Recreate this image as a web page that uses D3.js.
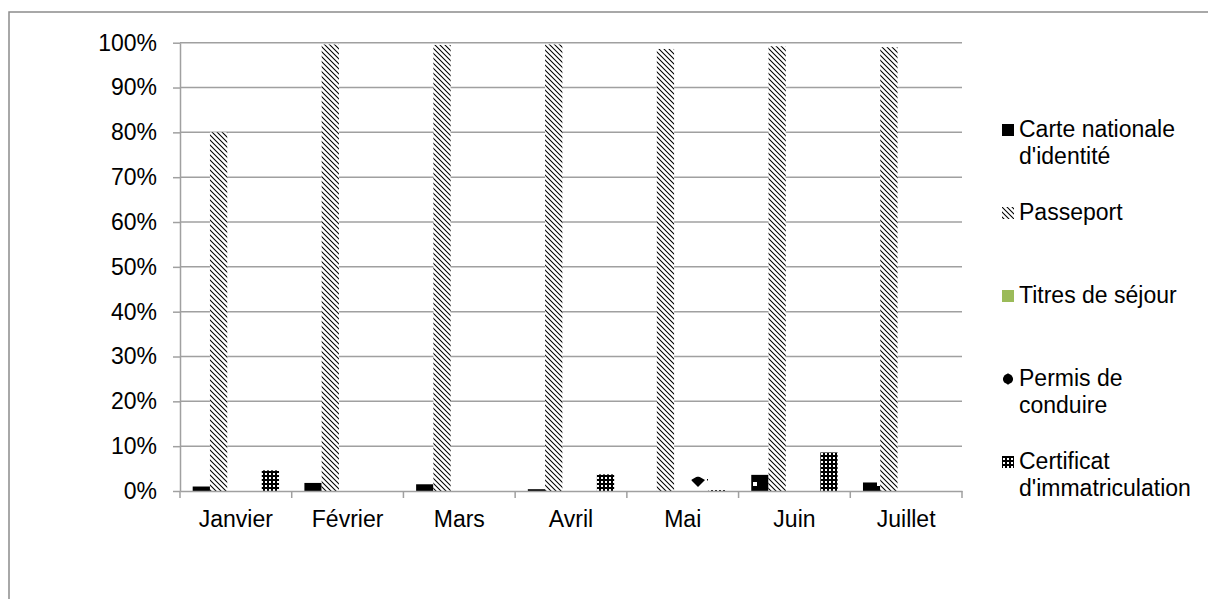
<!DOCTYPE html>
<html>
<head>
<meta charset="utf-8">
<script src="https://cdn.jsdelivr.net/npm/d3@7"></script>
<style>
body{margin:0;background:#fff;}
text{font-family:"Liberation Sans",Arial,sans-serif;fill:#000;}
</style>
</head>
<body>
<div id="chart-area"></div>
<script>
var months=["Janvier","Février","Mars","Avril","Mai","Juin","Juillet"];
var seriesNames=["Carte nationale d'identité","Passeport","Titres de séjour","Permis de conduire","Certificat d'immatriculation"];
var legendLines=[["Carte nationale","d'identité"],["Passeport"],["Titres de séjour"],["Permis de","conduire"],["Certificat","d'immatriculation"]];
var carte=[1.0,1.8,1.5,0.4,0,3.6,1.9];
var passeport=[80.0,99.6,99.5,99.6,98.6,99.2,99.0];
var titres=[0,0,0,0,0,0,0];
var permis=[0,0,0,0,3.2,0.1,0];
var certificat=[4.6,0,0,3.7,0.2,8.6,0];
var yTicks=[0,10,20,30,40,50,60,70,80,90,100];

var values=[carte,passeport,titres,permis,certificat];
var fills=["url(#p-carte)","url(#p-pass)","#9bbb59","url(#p-permis)","url(#p-cert)"];

var width=1208, height=599;
var plot={left:180,right:962,top:42.7,bottom:491};

var svg=d3.select("#chart-area").append("svg")
	.attr("width",width)
	.attr("height",height);

var defs=svg.append("defs");

// carte : noir avec un petit trou blanc de temps en temps
var pc=defs.append("pattern").attr("id","p-carte").attr("patternUnits","userSpaceOnUse")
	.attr("width",124).attr("height",124);
pc.append("rect").attr("width",124).attr("height",124).attr("fill","#000");
pc.append("rect").attr("x",9).attr("y",110).attr("width",4).attr("height",4).attr("fill","#fff");

// passeport : diagonales descendantes
var pp=defs.append("pattern").attr("id","p-pass").attr("patternUnits","userSpaceOnUse")
	.attr("width",5).attr("height",5);
pp.append("rect").attr("width",5).attr("height",5).attr("fill","#fff");
pp.append("path").attr("d","M0,0L5,5M-1,4L1,6M4,-1L6,1")
	.attr("stroke","#000").attr("stroke-width",1.05);

// permis : gros losanges
var pm=defs.append("pattern").attr("id","p-permis").attr("patternUnits","userSpaceOnUse")
	.attr("x",690).attr("y",473).attr("width",18).attr("height",18);
pm.append("rect").attr("width",18).attr("height",18).attr("fill","#fff");
pm.append("path").attr("d","M1,7L8,3L15,7L8,14Z").attr("fill","#000");
pm.append("rect").attr("x",17).attr("y",6).attr("width",1.5).attr("height",1.5).attr("fill","#000");

// certificat : grille noire
var pg=defs.append("pattern").attr("id","p-cert").attr("patternUnits","userSpaceOnUse")
	.attr("width",4).attr("height",4);
pg.append("rect").attr("width",4).attr("height",4).attr("fill","#000");
pg.append("rect").attr("x",1).attr("y",1).attr("width",2).attr("height",2).attr("fill","#fff");

// cadre
svg.append("rect")
	.attr("x",9).attr("y",12)
	.attr("width",width+20).attr("height",height+20)
	.attr("fill","none")
	.attr("stroke","#8c8c8c")
	.attr("stroke-width",1.5);

var y=d3.scaleLinear()
	.domain([0,100])
	.range([plot.bottom,plot.top]);

var x0=d3.scaleBand()
	.domain(months)
	.range([plot.left,plot.right]);

var x1=d3.scaleBand()
	.domain(d3.range(seriesNames.length))
	.range([0,x0.bandwidth()])
	.paddingOuter(0.735);

// grille
svg.append("g")
	.selectAll("line")
	.data(yTicks.filter((d)=>{return d>0;}))
	.enter().append("line")
		.attr("x1",plot.left).attr("x2",plot.right)
		.attr("y1",(d)=>{return y(d);}).attr("y2",(d)=>{return y(d);})
		.attr("stroke","#a0a0a0")
		.attr("stroke-width",1.5);

var leftAxis=d3.axisLeft(y)
	.tickValues(yTicks)
	.tickFormat((d)=>{return d+"%";})
	.tickSize(7)
	.tickSizeOuter(0)
	.tickPadding(16);

var ga=svg.append("g")
	.attr("transform","translate("+plot.left+",0)")
	.call(leftAxis);
ga.selectAll("path,line").attr("stroke","#a0a0a0").attr("stroke-width",1.5);
ga.selectAll("text").attr("font-size","23px").attr("font-family","Liberation Sans, Arial, sans-serif").attr("fill","#000");

// barres
var groups=svg.append("g")
	.selectAll("g")
	.data(values)
	.enter().append("g")
		.attr("fill",(d,i)=>{return fills[i];});

groups.each(function(serie,si){
	d3.select(this).selectAll("rect")
		.data(serie)
		.enter().append("rect")
			.attr("x",(d,i)=>{return x0(months[i])+x1(si);})
			.attr("width",x1.bandwidth())
			.attr("y",(d)=>{return y(d);})
			.attr("height",(d)=>{return y(0)-y(d);});
});

// axe des x
var bottomAxis=d3.axisBottom(x0).tickSize(0).tickPadding(0);
var gx=svg.append("g")
	.attr("transform","translate(0,"+plot.bottom+")")
	.call(bottomAxis);
gx.select(".domain").attr("stroke","#a0a0a0").attr("stroke-width",1.5);
gx.selectAll("text")
	.attr("y",36).attr("dy",0)
	.attr("font-size","23px")
	.attr("font-family","Liberation Sans, Arial, sans-serif")
	.attr("fill","#000");

var bounds=months.map((m)=>{return x0(m);}).concat([x0.range()[1]]);
gx.selectAll("line.sep")
	.data(bounds)
	.enter().append("line")
		.attr("class","sep")
		.attr("x1",(d)=>{return d;}).attr("x2",(d)=>{return d;})
		.attr("y1",0).attr("y2",7)
		.attr("stroke","#a0a0a0")
		.attr("stroke-width",1.5);

// légende
var legend=svg.append("g")
	.attr("transform","translate(1002,129)");

legendLines.forEach((lines,i)=>{
	var row=legend.append("g")
		.attr("transform","translate(0,"+(i*83)+")");

	if(i==3){
		row.append("path")
			.attr("d",d3.symbol().type(d3.symbolCircle).size(80))
			.attr("transform","translate(6,1)")
			.attr("fill","#000");
		row.append("path")
			.attr("d","M1,1L6,-5L11,1L6,7Z")
			.attr("fill","#000");
	} else {
		row.append("rect")
			.attr("x",0).attr("y",-5)
			.attr("width",12).attr("height",12)
			.attr("fill",fills[i]);
	}

	lines.forEach((t,j)=>{
		row.append("text")
			.attr("x",17)
			.attr("y",j*27)
			.attr("dy","0.35em")
			.attr("font-size","23px")
			.text(t);
	});
});
</script>
</body>
</html>
